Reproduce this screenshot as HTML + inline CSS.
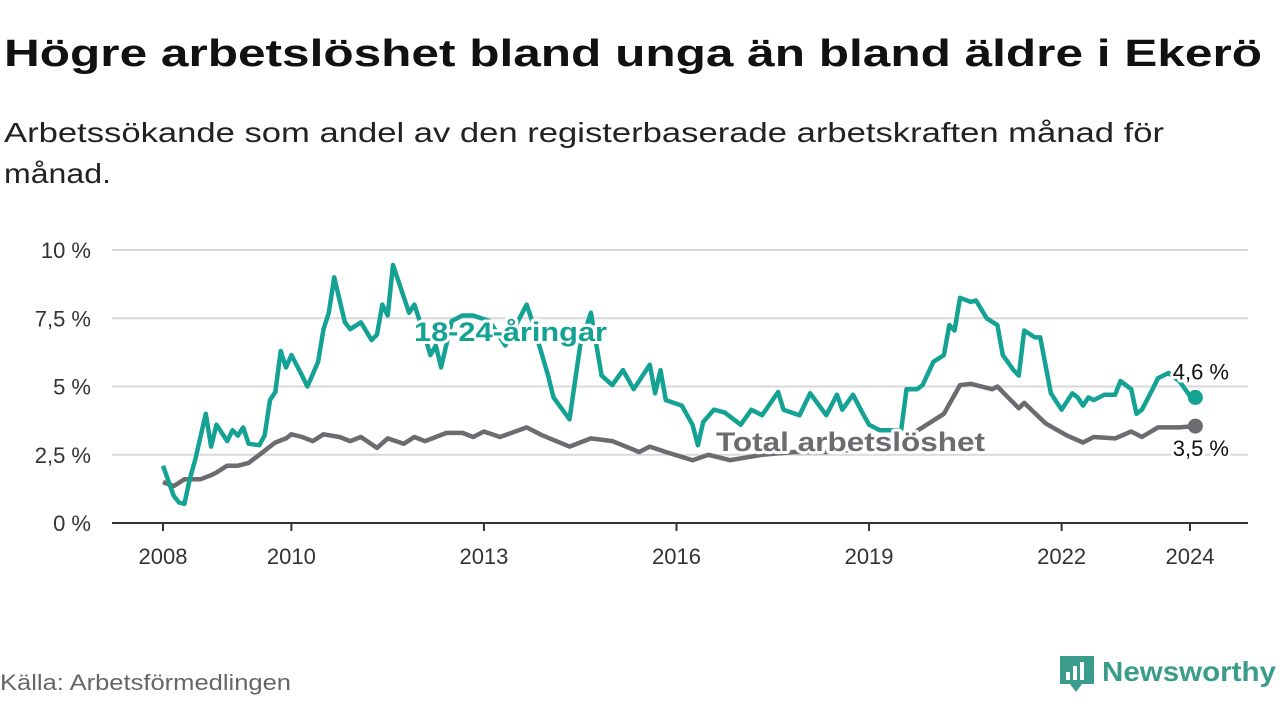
<!DOCTYPE html>
<html><head><meta charset="utf-8"><style>
body{margin:0;background:#fff;width:1280px;height:720px;overflow:hidden;font-family:"Liberation Sans",sans-serif}
svg{display:block}
</style></head><body>
<svg id="chart" width="1280" height="720">
<text x="4" y="66" font-size="38" font-weight="bold" fill="#111" textLength="1258" lengthAdjust="spacingAndGlyphs">Högre arbetslöshet bland unga än bland äldre i Ekerö</text>
<text x="4" y="142" font-size="28" fill="#222" textLength="1160" lengthAdjust="spacingAndGlyphs">Arbetssökande som andel av den registerbaserade arbetskraften månad för</text>
<text x="4" y="183" font-size="28" fill="#222" textLength="107" lengthAdjust="spacingAndGlyphs">månad.</text>
<g id="grid"></g><g id="series"></g><g id="labels"></g>
<text x="0" y="690" font-size="22" fill="#666" textLength="291" lengthAdjust="spacingAndGlyphs">Källa: Arbetsförmedlingen</text>
<g>
<path d="M1060 656 h34 v28 h-12 l-6 8 l-6 -8 h-10 z" fill="#3c9c8c"/>
<rect x="1066" y="672" width="4" height="8" fill="#fff"/><rect x="1073" y="666" width="4" height="14" fill="#fff"/><rect x="1080" y="662" width="4" height="18" fill="#fff"/>
<text x="1102" y="681" font-size="28" font-weight="bold" fill="#3c9c8c" textLength="174" lengthAdjust="spacingAndGlyphs">Newsworthy</text>
</g>
</svg>
<script>
// months since Jan 2008
const youthMonths=[0,2,3,4,5,6,8,9,10,12,13,14,15,16,18,19,20,21,22,23,24,26,27,29,30,31,32,34,35,37,39,40,41,42,43,46,47,49,50,51,52,54,56,58,61,64,68,69,72,73,76,78,80,82,84,86,88,91,92,93,94,97,99,100,101,103,105,108,110,112,115,116,119,121,124,126,127,129,131,132,134,138,139,141,142,144,146,147,148,149,151,152,154,156,157,159,160,161,163,164,166,168,170,171,172,173,174,176,178,179,181,182,183,185,186,188,190,192,193];
const youthValues=[2.1,1.0,0.75,0.7,1.6,2.3,4.0,2.8,3.6,3.0,3.4,3.2,3.5,2.9,2.85,3.2,4.5,4.8,6.3,5.7,6.15,5.4,5.0,5.9,7.1,7.7,9.0,7.35,7.1,7.35,6.7,6.9,8.0,7.6,9.45,7.7,8.0,6.8,6.15,6.5,5.7,7.4,7.6,7.6,7.4,6.5,8.0,7.4,5.4,4.6,3.8,6.5,7.7,5.4,5.05,5.6,4.9,5.8,4.75,5.6,4.5,4.3,3.6,2.85,3.7,4.15,4.05,3.6,4.15,3.95,4.8,4.15,3.95,4.75,3.95,4.7,4.15,4.7,3.95,3.6,3.4,3.4,4.9,4.9,5.05,5.9,6.15,7.25,7.05,8.25,8.1,8.15,7.5,7.25,6.15,5.6,5.4,7.05,6.8,6.8,4.75,4.15,4.75,4.6,4.3,4.6,4.5,4.7,4.7,5.2,4.9,4.0,4.15,4.9,5.3,5.5,5.2,4.65,4.6];
const totalMonths=[0,2,4,7,9,10,12,14,16,18,21,23,24,26,28,30,33,35,37,40,42,45,47,49,53,56,58,60,63,68,71,76,80,84,89,91,94,99,102,106,112,118,124,130,136,142,146,149,151,155,156,158,160,161,165,169,172,174,178,181,183,186,190,193];
const totalValues=[1.5,1.35,1.6,1.6,1.75,1.85,2.1,2.1,2.2,2.5,2.95,3.1,3.25,3.15,3.0,3.25,3.15,3.0,3.15,2.75,3.1,2.9,3.15,3.0,3.3,3.3,3.15,3.35,3.15,3.5,3.2,2.8,3.1,3.0,2.6,2.8,2.6,2.3,2.5,2.3,2.5,2.6,2.6,2.7,2.8,3.5,4.0,5.05,5.1,4.9,5.0,4.6,4.2,4.4,3.65,3.2,2.95,3.15,3.1,3.35,3.15,3.5,3.5,3.55];
const yTicks=[0,2.5,5,7.5,10];
const yTickLabels=["0 %","2,5 %","5 %","7,5 %","10 %"];
const xTickYears=[2008,2010,2013,2016,2019,2022,2024];
const NS="http://www.w3.org/2000/svg";
const X=m=>163+m*(1027/192);
const Y=v=>523-v*27.3;
function mk(tag,attrs,parent,txt){const e=document.createElementNS(NS,tag);for(const k in attrs)e.setAttribute(k,attrs[k]);if(txt!==undefined)e.textContent=txt;parent.appendChild(e);return e;}
const grid=document.getElementById('grid'),ser=document.getElementById('series'),lab=document.getElementById('labels');
yTicks.forEach((t,i)=>{
  if(t>0){const l=mk('line',{x1:112,x2:1248,y1:Y(t),y2:Y(t),stroke:'#d9d9d9','stroke-width':2},grid);
  
  }
  const tx=mk('text',{x:91,y:Y(t)+8,'font-size':22,fill:'#333','text-anchor':'end'},grid,yTickLabels[i]);
  
  
});
const ax=mk('line',{x1:112,x2:1248,y1:523,y2:523,stroke:'#333','stroke-width':2},grid);


xTickYears.forEach(yr=>{
  const x=X((yr-2008)*12);
  const tk=mk('line',{x1:x,x2:x,y1:523,y2:531,stroke:'#333','stroke-width':2},grid);
  
  
  const tx=mk('text',{x:x,y:564,'font-size':22,fill:'#333','text-anchor':'middle'},grid,yr);
  
  
});
function line(ms,vs,color,name){
  const d=ms.map((m,i)=>(i?'L':'M')+X(m).toFixed(1)+' '+Y(vs[i]).toFixed(1)).join(' ');
  const p=mk('path',{d:d,fill:'none',stroke:color,'stroke-width':4.5,'stroke-linejoin':'round'},ser);
  
  
  const n=ms.length-1;
  const c=mk('circle',{cx:X(ms[n]),cy:Y(vs[n]),r:7.5,fill:color},ser);
  
  
}
line(totalMonths,totalValues,'#6d6a70','total-line');
line(youthMonths,youthValues,'#13a293','youth-line');
function label(x,y,t,color,size,weight,name,anchor,len){
  const a={x:x,y:y,'font-size':size,'font-weight':weight,fill:color,stroke:'#fff','stroke-width':6,'paint-order':'stroke','stroke-linejoin':'round','text-anchor':anchor||'start'};
  if(len){a.textLength=len;a.lengthAdjust='spacingAndGlyphs';}
  const e=mk('text',a,lab,t);
  
  
}
label(414,341,'18-24-åringar','#13a293',27,'bold','youth-series-label','start',193);
label(716,451,'Total arbetslöshet','#6d6a70',27,'bold','total-series-label','start',269);
const nY=youthMonths.length-1,nT=totalMonths.length-1;
label(1229,Y(youthValues[nY])-18,youthValues[nY].toFixed(1).replace('.',',')+' %','#111',22,'normal','youth-end-value','end');
label(1229,Y(totalValues[nT])+30,totalValues[nT].toFixed(1).replace('.',',')+' %','#111',22,'normal','total-end-value','end');
</script>
</body></html>
